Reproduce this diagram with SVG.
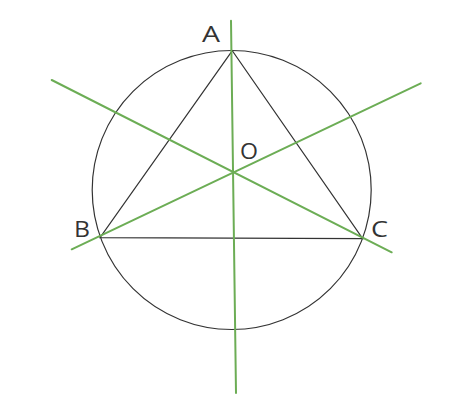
<svg xmlns="http://www.w3.org/2000/svg" width="475" height="411" viewBox="0 0 475 411">
<style>
.blk{fill:none;stroke:#333;stroke-width:1.2}
.grn{fill:none;stroke:#6cad55;stroke-width:2;stroke-linecap:round}
.lbl{font-family:"Open Sans","DejaVu Sans",sans-serif;font-size:22px;fill:#333;text-anchor:middle}
</style>
<rect width="475" height="411" fill="#fff"/>
<g id="circle"><circle class="blk" cx="231.7" cy="190" r="139.5"/></g>
<g id="triangle"><polygon class="blk" points="232.3,50.7 100,237.7 362.7,238.7"/></g>
<g id="connectors">
<line class="grn" x1="231" y1="20.7" x2="236" y2="393"/>
<line class="grn" x1="51.7" y1="80" x2="391.7" y2="252.3"/>
<line class="grn" x1="71.7" y1="249.3" x2="420.7" y2="83.3"/>
</g>
<g id="A"><text class="lbl" x="211" y="41.7" textLength="18" lengthAdjust="spacingAndGlyphs">A</text></g>
<g id="B"><text class="lbl" x="82" y="237.3" textLength="16" lengthAdjust="spacingAndGlyphs">B</text></g>
<g id="C"><text class="lbl" x="379.5" y="237.3" textLength="17" lengthAdjust="spacingAndGlyphs">C</text></g>
<g id="O"><text class="lbl" x="249" y="159.3" textLength="18" lengthAdjust="spacingAndGlyphs">O</text></g>
</svg>
